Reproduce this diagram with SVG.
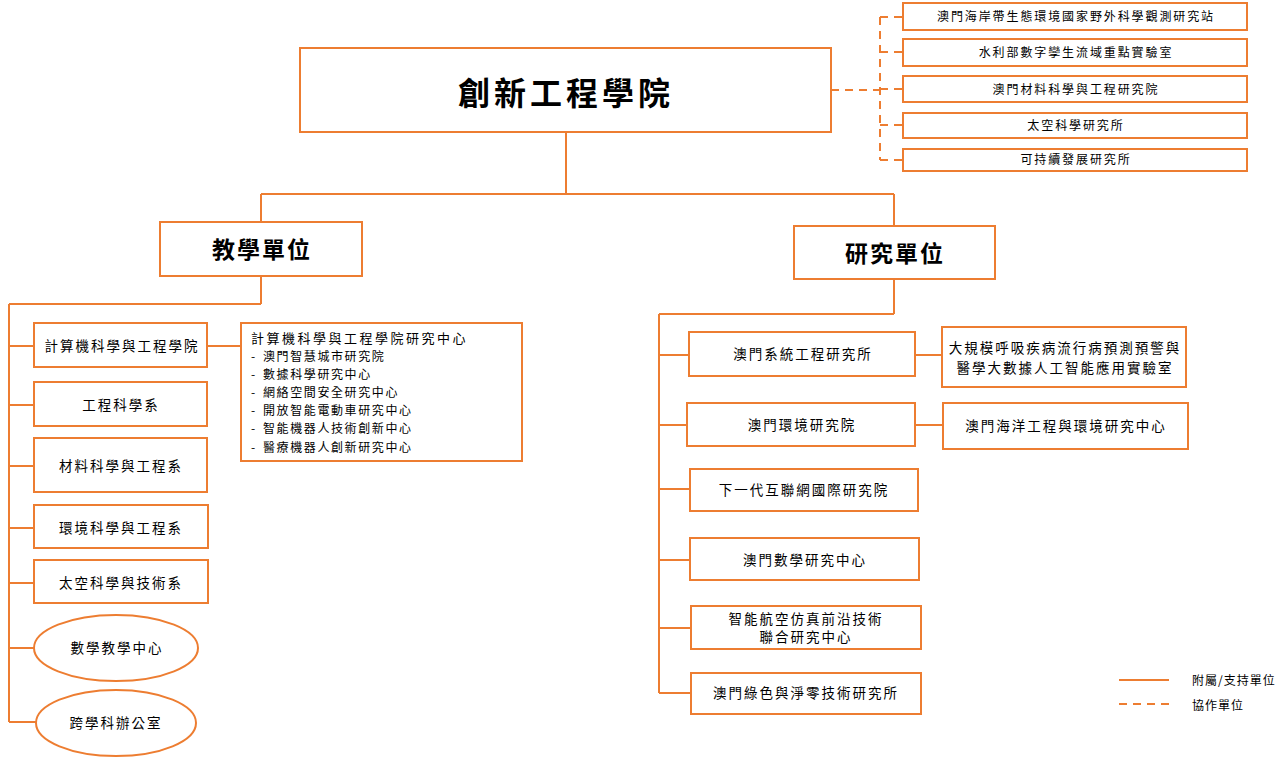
<svg xmlns="http://www.w3.org/2000/svg" width="1284" height="762" viewBox="0 0 1284 762">
<style>
.b{fill:#fff;stroke:#ED7D31;stroke-width:2}
.l{fill:none;stroke:#ED7D31;stroke-width:2}
.d{fill:none;stroke:#ED7D31;stroke-width:2;stroke-dasharray:8 6}
text{font-family:"Noto Sans CJK TC","Noto Sans CJK SC",sans-serif;fill:#000}
.t12{font-size:12px;letter-spacing:1.9px;text-anchor:middle}
.t14{font-size:13.5px;letter-spacing:2px;text-anchor:middle}
.c{font-size:12px;letter-spacing:1.6px}
</style>
<rect width="1284" height="762" fill="#fff"/>
<g id="connectors">
<path class="l" d="M566 132V194M261 194H894M261 194V222M894 194V226"/>
<path class="l" d="M261 276V304M9 304H261M9 304V722M9 346H34M9 405H34M9 466H34M9 528H34M9 583H34M9 648H34M9 722H36M207 346H241"/>
<path class="l" d="M894 279V314M659 314H894M659 314V693M659 355H689M659 425H687M659 489H690M659 560H690M659 628H691M659 693H691M915 355H942M915 425H943"/>
<path class="d" d="M831 90H880M880 17V160M880 17H903M880 52H903M880 89H903M880 125H903M880 160H903"/>
</g>
<g id="main"><rect class="b" x="300" y="48" width="531" height="84"/><text x="566" y="105" font-size="32" font-weight="bold" text-anchor="middle" letter-spacing="4">創新工程學院</text></g>
<g id="tr1"><rect class="b" x="903" y="3" width="344" height="27"/><text class="t12" x="1076" y="21">澳門海岸帶生態環境國家野外科學觀測研究站</text></g>
<g id="tr2"><rect class="b" x="903" y="39" width="344" height="27"/><text class="t12" x="1076" y="57">水利部數字孿生流域重點實驗室</text></g>
<g id="tr3"><rect class="b" x="903" y="76" width="344" height="26"/><text class="t12" x="1076" y="94">澳門材料科學與工程研究院</text></g>
<g id="tr4"><rect class="b" x="903" y="113" width="344" height="25"/><text class="t12" x="1076" y="130">太空科學研究所</text></g>
<g id="tr5"><rect class="b" x="903" y="149" width="344" height="22"/><text class="t12" x="1076" y="164">可持續發展研究所</text></g>
<g id="teach"><rect class="b" x="160" y="222" width="202" height="54"/><text x="262" y="258" font-size="23" font-weight="bold" text-anchor="middle" letter-spacing="2">教學單位</text></g>
<g id="research"><rect class="b" x="794" y="226" width="201" height="53"/><text x="895" y="262" font-size="23" font-weight="bold" text-anchor="middle" letter-spacing="2">研究單位</text></g>
<g id="l1"><rect class="b" x="34" y="323" width="173" height="44"/><text class="t14" x="122" y="351">計算機科學與工程學院</text></g>
<g id="l2"><rect class="b" x="34" y="382" width="173" height="44"/><text class="t14" x="121" y="410">工程科學系</text></g>
<g id="l3"><rect class="b" x="34" y="438" width="173" height="54"/><text class="t14" x="121" y="471">材料科學與工程系</text></g>
<g id="l4"><rect class="b" x="34" y="505" width="174" height="43"/><text class="t14" x="121" y="533">環境科學與工程系</text></g>
<g id="l5"><rect class="b" x="34" y="560" width="174" height="43"/><text class="t14" x="121" y="588">太空科學與技術系</text></g>
<g id="l6"><ellipse class="b" cx="116" cy="648" rx="82" ry="33"/><text class="t14" x="117" y="653">數學教學中心</text></g>
<g id="l7"><ellipse class="b" cx="116" cy="723" rx="80" ry="33"/><text class="t14" x="116" y="728">跨學科辦公室</text></g>
<g id="cse"><rect class="b" x="241" y="323" width="281" height="138"/>
<text x="251" y="343" font-size="13" letter-spacing="2.5">計算機科學與工程學院研究中心</text>
<text class="c" x="251" y="361">-</text><text class="c" x="263" y="361">澳門智慧城市研究院</text>
<text class="c" x="251" y="379">-</text><text class="c" x="263" y="379">數據科學研究中心</text>
<text class="c" x="251" y="397">-</text><text class="c" x="263" y="397">網絡空間安全研究中心</text>
<text class="c" x="251" y="415">-</text><text class="c" x="263" y="415">開放智能電動車研究中心</text>
<text class="c" x="251" y="433">-</text><text class="c" x="263" y="433">智能機器人技術創新中心</text>
<text class="c" x="251" y="452">-</text><text class="c" x="263" y="452">醫療機器人創新研究中心</text>
</g>
<g id="r1"><rect class="b" x="689" y="332" width="226" height="44"/><text class="t14" x="803" y="359">澳門系統工程研究所</text></g>
<g id="r1b"><rect class="b" x="942" y="327" width="244" height="60"/><text class="t14" x="1065" y="353">大規模呼吸疾病流行病預測預警與</text><text class="t14" x="1065" y="373">醫學大數據人工智能應用實驗室</text></g>
<g id="r2"><rect class="b" x="687" y="403" width="228" height="43"/><text class="t14" x="802" y="430">澳門環境研究院</text></g>
<g id="r2b"><rect class="b" x="943" y="403" width="245" height="46"/><text class="t14" x="1066" y="431">澳門海洋工程與環境研究中心</text></g>
<g id="r3"><rect class="b" x="690" y="469" width="228" height="42"/><text class="t14" x="804" y="495">下一代互聯網國際研究院</text></g>
<g id="r4"><rect class="b" x="690" y="538" width="229" height="42"/><text class="t14" x="805" y="565">澳門數學研究中心</text></g>
<g id="r5"><rect class="b" x="691" y="606" width="230" height="43"/><text class="t14" x="806" y="624">智能航空仿真前沿技術</text><text class="t14" x="806" y="642">聯合研究中心</text></g>
<g id="r6"><rect class="b" x="691" y="673" width="230" height="41"/><text class="t14" x="806" y="698">澳門綠色與淨零技術研究所</text></g>
<g id="legend">
<path class="l" d="M1119 680H1169"/><path class="d" d="M1119 704H1169" stroke-dasharray="8 7"/>
<text x="1192" y="685" font-size="12" letter-spacing="1">附屬/支持單位</text>
<text x="1192" y="710" font-size="12" letter-spacing="1">協作單位</text>
</g>
</svg>
